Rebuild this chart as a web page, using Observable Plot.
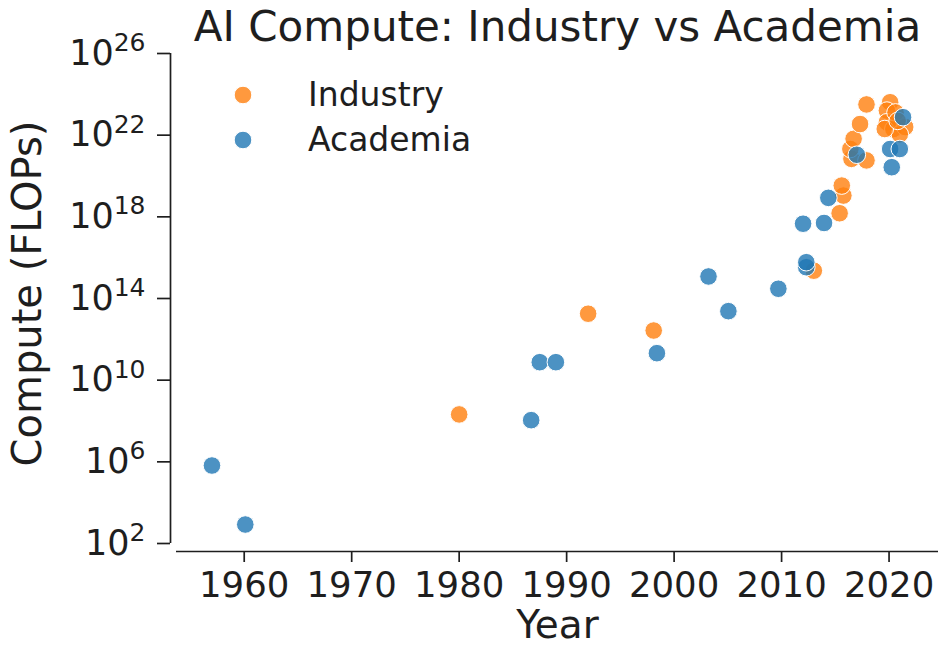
<!DOCTYPE html>
<html>
<head>
<meta charset="utf-8">
<script src="https://cdn.jsdelivr.net/npm/d3@7"></script>
<script src="https://cdn.jsdelivr.net/npm/@observablehq/plot@0.6"></script>
<style>
  body { margin: 0; background: #fff; }
  #wrap { position: relative; width: 938px; height: 646px; font-family: "DejaVu Sans", sans-serif; }
  #wrap > svg { position: absolute; left: 0; top: 0; }
  #legend { position: absolute; left: 0; top: 0; pointer-events: none; }
</style>
</head>
<body>
<div id="wrap"></div>
<script>
// ---- data ----
const title = "AI Compute: Industry vs Academia";
const xLabel = "Year";
const yLabel = "Compute (FLOPs)";
const seriesNames = ["Industry", "Academia"];
const seriesColors = ["#ff7f0e", "#1f77b4"];

const industryYear = [1980.0, 1992.0, 1998.1, 2013.0, 2015.4, 2015.75, 2015.6, 2016.5, 2016.4, 2016.7,
  2017.3, 2017.9, 2017.9, 2020.1, 2019.8, 2019.8, 2020.4, 2021.5, 2021.0, 2020.6, 2019.6, 2020.8];
const industryCompute = [2.1e8, 1.8e13, 2.7e12, 2.3e15, 1.5e18, 1.1e19, 3.4e19, 6.9e20, 2.1e21, 6.6e21,
  3.5e22, 3.2e23, 5.8e20, 4.1e23, 1.6e23, 4.3e22, 2.0e22, 2.5e22, 1.1e22, 1.3e23, 2.0e22, 5.0e22];

const academiaYear = [1957.0, 1960.1, 1986.7, 1987.5, 1989.0, 1998.4, 2003.2, 2005.05, 2009.7, 2012.0,
  2012.3, 2012.3, 2013.95, 2014.35, 2017.0, 2020.1, 2021.0, 2020.25, 2021.3];
const academiaCompute = [6.6e5, 8.5e2, 1.1e8, 7.6e10, 7.6e10, 2.1e11, 1.2e15, 2.4e13, 3.0e14, 4.6e17,
  3.4e15, 6.0e15, 5.0e17, 8.5e18, 1.1e21, 2.1e21, 2.1e21, 2.7e20, 7.6e22];

const xTicks = [1960, 1970, 1980, 1990, 2000, 2010, 2020];
const yTicks = [1e2, 1e6, 1e10, 1e14, 1e18, 1e22, 1e26];
const xDomain = [1953.7, 2024.6];
const yDomain = [1e2, 1e26];

// ---- build table ----
const data = [
  ...industryYear.map((y, i) => ({year: y, compute: industryCompute[i], group: seriesNames[0]})),
  ...academiaYear.map((y, i) => ({year: y, compute: academiaCompute[i], group: seriesNames[1]}))
];

const fmtPow = d => "10^" + String(Math.round(Math.log10(d)));

const ink = "#1e1e1e";
const font = "DejaVu Sans";

const chart = Plot.plot({
  width: 938,
  height: 646,
  marginLeft: 176,
  marginRight: 0,
  marginTop: 53,
  marginBottom: 103,
  style: {fontFamily: font, background: "transparent", color: ink, overflow: "visible"},
  x: {domain: xDomain},
  y: {type: "log", domain: yDomain},
  color: {domain: seriesNames, range: seriesColors},
  marks: [
    Plot.ruleX([xDomain[0]], {y1: yDomain[0], y2: yDomain[1], dx: -6, stroke: ink, strokeWidth: 1.7}),
    Plot.ruleY([yDomain[0]], {dy: 8, stroke: ink, strokeWidth: 1.7}),
    Plot.axisY({ticks: yTicks, tickFormat: fmtPow, tickSize: 13, tickPadding: 12, dx: -6,
      fontSize: 35, label: null, stroke: ink, strokeWidth: 1.7, fill: ink}),
    Plot.axisX({ticks: xTicks, tickFormat: d => String(d), tickSize: 11, tickPadding: 9, dy: 8,
      fontSize: 35.5, label: null, stroke: ink, strokeWidth: 1.7, fill: ink}),
    Plot.dot(data, {x: "year", y: "compute", fill: "group", r: 8.8, fillOpacity: 0.8,
      stroke: "white", strokeWidth: 1}),
    Plot.text([yLabel], {text: d => d, frameAnchor: "left", textAnchor: "middle", lineAnchor: "middle",
      rotate: -90, dx: -148, dy: -5, fontSize: 40, fill: ink}),
    Plot.text([xLabel], {text: d => d, frameAnchor: "bottom", textAnchor: "middle", lineAnchor: "middle",
      dy: 82.5, fontSize: 39, fill: ink}),
    Plot.text([title], {text: d => d, frameAnchor: "top", textAnchor: "middle", lineAnchor: "middle",
      dy: -26, fontSize: 42, fill: ink})
  ]
});

const wrap = document.getElementById("wrap");
wrap.appendChild(chart);

// y tick labels: render exponent as a real superscript tspan
d3.select(chart).selectAll('g[aria-label="y-axis tick label"] text').each(function () {
  const t = d3.select(this);
  const s = t.text();
  const [base, exp] = s.split("^");
  if (exp === undefined) return;
  t.text(null);
  t.append("tspan").text(base);
  t.append("tspan").attr("font-size", 25).attr("dy", "-0.55em").text(exp);
});

// ---- legend (overlay) ----
const leg = d3.select(wrap).append("svg")
  .attr("id", "legend").attr("width", 938).attr("height", 646);
seriesNames.forEach((name, i) => {
  const cy = 95 + i * 45;
  leg.append("circle").attr("cx", 243).attr("cy", cy).attr("r", 8.8)
    .attr("fill", seriesColors[i]).attr("fill-opacity", 0.8)
    .attr("stroke", "white").attr("stroke-width", 1);
  leg.append("text").attr("x", 308).attr("y", cy + 11)
    .attr("font-family", font).attr("font-size", 33).attr("fill", ink).text(name);
});
</script>
</body>
</html>
